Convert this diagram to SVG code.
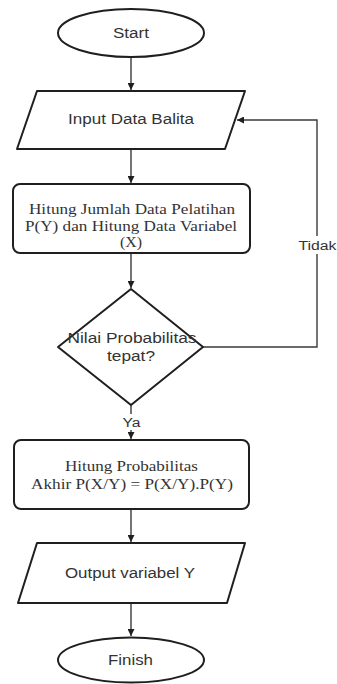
<svg xmlns="http://www.w3.org/2000/svg" width="337" height="684" viewBox="0 0 337 684">
  <style>
    .shape { fill: #ffffff; stroke: #1f1f1f; stroke-width: 2; stroke-linejoin: round; }
    .edge { fill: none; stroke: #3a3a3a; stroke-width: 1.4; }
    .sans { font-family: "Liberation Sans", Arial, sans-serif; font-size: 14px; fill: #333333; text-anchor: middle; }
    .serif { font-family: "Liberation Serif", "Times New Roman", serif; font-size: 14px; fill: #333333; text-anchor: middle; }
    .lbl { font-family: "Liberation Sans", Arial, sans-serif; font-size: 12px; fill: #333333; text-anchor: middle; }
    .lblbg { fill: #ffffff; stroke: none; }
  </style>
  <defs>
    <marker id="arrow" viewBox="0 0 10 10" refX="10" refY="5" markerWidth="7" markerHeight="7" markerUnits="userSpaceOnUse" orient="auto">
      <path d="M0,0 L10,5 L0,10 Z" fill="#1f1f1f"/>
    </marker>
  </defs>
  <rect width="337" height="684" fill="#ffffff"/>

  <!-- connectors -->
  <g id="connectors">
    <line class="edge" x1="131" y1="57" x2="131" y2="90" marker-end="url(#arrow)"/>
    <line class="edge" x1="131" y1="149" x2="131" y2="183" marker-end="url(#arrow)"/>
    <line class="edge" x1="131" y1="253" x2="131" y2="288" marker-end="url(#arrow)"/>
    <line class="edge" x1="131" y1="405" x2="131" y2="439" marker-end="url(#arrow)"/>
    <line class="edge" x1="131" y1="509" x2="131" y2="542" marker-end="url(#arrow)"/>
    <line class="edge" x1="131" y1="603" x2="131" y2="636" marker-end="url(#arrow)"/>
    <polyline class="edge" points="203,347 317,347 317,120 237,120" marker-end="url(#arrow)"/>
    <!-- edge labels -->
    <rect class="lblbg" x="298" y="236" width="39" height="18"/>
    <text class="lbl" x="317.5" y="250" textLength="38" lengthAdjust="spacingAndGlyphs">Tidak</text>
    <rect class="lblbg" x="121" y="414" width="20" height="16"/>
    <text class="lbl" x="131.5" y="427" textLength="18" lengthAdjust="spacingAndGlyphs">Ya</text>
  </g>

  <g id="start">
    <ellipse class="shape" cx="131" cy="33" rx="73" ry="24"/>
    <text class="sans" x="131" y="38" textLength="36" lengthAdjust="spacingAndGlyphs">Start</text>
  </g>

  <g id="input">
    <path class="shape" d="M37,91 L245,91 L225,149 L17,149 Z"/>
    <text class="sans" x="131" y="124" textLength="126" lengthAdjust="spacingAndGlyphs">Input Data Balita</text>
  </g>

  <g id="hitung-jumlah">
    <rect class="shape" x="13" y="184" width="237" height="69" rx="7"/>
    <text class="serif" x="132" y="214" textLength="206" lengthAdjust="spacingAndGlyphs">Hitung Jumlah Data Pelatihan</text>
    <text class="serif" x="131" y="231" textLength="212" lengthAdjust="spacingAndGlyphs">P(Y) dan Hitung Data Variabel</text>
    <text class="serif" x="131" y="247" textLength="22" lengthAdjust="spacingAndGlyphs">(X)</text>
  </g>

  <g id="decision">
    <path class="shape" d="M131,289 L203,347 L131,405 L58,347 Z"/>
    <text class="sans" x="132" y="343" textLength="129" lengthAdjust="spacingAndGlyphs">Nilai Probabilitas</text>
    <text class="sans" x="131" y="361" textLength="48" lengthAdjust="spacingAndGlyphs">tepat?</text>
  </g>

  <g id="hitung-probabilitas">
    <rect class="shape" x="14" y="440" width="235" height="69" rx="7"/>
    <text class="serif" x="131.5" y="471" textLength="133" lengthAdjust="spacingAndGlyphs">Hitung Probabilitas</text>
    <text class="serif" x="132" y="489" textLength="202" lengthAdjust="spacingAndGlyphs">Akhir P(X/Y) = P(X/Y).P(Y)</text>
  </g>

  <g id="output">
    <path class="shape" d="M37,543 L245,543 L227,603 L18,603 Z"/>
    <text class="sans" x="130" y="578" textLength="130" lengthAdjust="spacingAndGlyphs">Output variabel Y</text>
  </g>

  <g id="finish">
    <ellipse class="shape" cx="131" cy="660" rx="73" ry="22.5"/>
    <text class="sans" x="130.5" y="665" textLength="45" lengthAdjust="spacingAndGlyphs">Finish</text>
  </g>
</svg>
